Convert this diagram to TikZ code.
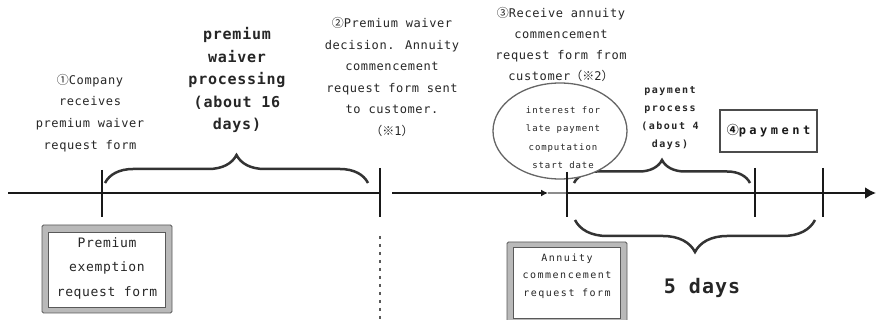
\documentclass[tikz,border=0pt]{standalone}
\usepackage{fontspec}
\usetikzlibrary{decorations.pathreplacing,arrows.meta,shapes.geometric}
\newfontfamily\jmono{DejaVu Sans Mono}[LetterSpace=5]
\newfontfamily\jmonoS{DejaVu Sans Mono}[LetterSpace=10]
\newfontfamily\jmonoW{DejaVu Sans Mono}[LetterSpace=15]
\newfontfamily\jmonoX{DejaVu Sans Mono}[LetterSpace=29]
\newfontfamily\jcjk{Noto Sans CJK JP}
\begin{document}
\begin{tikzpicture}[x=1pt,y=-1pt,
  txt/.style={align=center,inner sep=0pt,text=black!85},
  brc/.style={decorate,decoration={brace,amplitude=#1},line width=2.5pt,draw=black!80},
  axisline/.style={line width=2.4pt,draw=black!90},
  tickline/.style={line width=2.4pt,draw=black!90},
  frameout/.style={draw=black!65,fill=gray!55,line width=0.8pt,rounded corners=1.5pt},
  framein/.style={draw=black!65,fill=white,line width=0.8pt}]
\useasboundingbox (0,0) rectangle (876,320);
\fill[white] (0,0) rectangle (876,320);

% coordinates
\coordinate (a0) at (8,193);
\coordinate (a1) at (381,193);
\coordinate (a2) at (392,193);
\coordinate (a3) at (548,193);
\coordinate (a4) at (567,193);
\coordinate (a5) at (876,193);

% braces
\draw[brc=28] (105,183) -- (368,183);
\draw[brc=23] (574,183) -- (750,183);
\draw[brc=32] (815,220) -- (575,220);

% ellipse
\node (ell) [ellipse,draw=black!60,line width=1.3pt,fill=white,minimum width=134pt,minimum height=96pt,inner sep=0pt] at (560,131) {};
\node (elltxt) [txt,font={\jmonoS\fontsize{9}{18.3}\selectfont}] at (563,137.5)
  {interest for\\late payment\\computation\\start date};

% axis
\draw[axisline] (a0) -- (a1);
\draw[axisline,-{Latex[length=7pt,width=7pt]}] (a2) -- (a3);
\draw[line width=2.4pt,draw=black!45] (a3) -- (a4);
\draw[axisline,-{Latex[length=11pt,width=12pt]}] (a4) -- (a5);

% ticks
\draw[tickline] (102,170) -- (102,217);
\draw[tickline] (380,168) -- (380,217);
\draw[tickline] (567,172) -- (567,217);
\draw[tickline] (755,168) -- (755,217);
\draw[tickline] (823,168) -- (823,217);

% dotted
\coordinate (d0) at (380,236);
\coordinate (d1) at (380,320);
\draw[line width=2.8pt,draw=black!65,dash pattern=on 2.6pt off 5.4pt] (d0) -- (d1);

% box 1
\draw[frameout] (42,225) rectangle (172,313);
\draw[framein] (48,232) rectangle (165,307);
\node (b1) [txt,font={\jmono\fontsize{13}{24.5}\selectfont}] at (107,268)
  {Premium\\exemption\\request form};

% box 2
\draw[frameout] (507,242) rectangle (627,326);
\draw[framein] (513,247) rectangle (620,318);
\node (b2) [txt,font={\jmonoW\fontsize{10}{17.5}\selectfont}] at (567,276)
  {Annuity\\commencement\\request form};

% payment box
\node (pay) [draw=black!70,line width=1.6pt,minimum width=97pt,minimum height=42pt,inner sep=0pt,
  text=black!90,font={\jmonoX\bfseries\fontsize{12}{14}\selectfont}] at (768.5,131)
  {{\jcjk\bfseries ④}payment};

% texts
\node (t1) [txt,font={\jmono\fontsize{12}{21.7}\selectfont}] at (90,113)
  {{\jcjk ①}Company\\receives\\premium waiver\\request form};
\node (t2) [txt,font={\jmono\bfseries\fontsize{15}{22.5}\selectfont}] at (237,80)
  {premium\\waiver\\processing\\(about 16\\days)};
\node (t3) [txt,font={\jmono\fontsize{12}{21.5}\selectfont}] at (392,77)
  {{\jcjk ②}Premium waiver\\decision. Annuity\\commencement\\request form sent\\to customer.\\{\jcjk （※}1{\jcjk ）}};
\node (t4) [txt,font={\jmono\fontsize{12}{21}\selectfont}] at (561,45)
  {{\jcjk ③}Receive annuity\\commencement\\request form from\\customer{\jcjk （※}2{\jcjk ）}};
\node (t5) [txt,font={\jmonoW\bfseries\fontsize{10}{18.3}\selectfont}] at (670,118)
  {payment\\process\\(about 4\\days)};
\node (t6) [txt,font={\jmono\bfseries\fontsize{20}{24}\selectfont}] at (702,288)
  {5 days};
\end{tikzpicture}
\end{document}
